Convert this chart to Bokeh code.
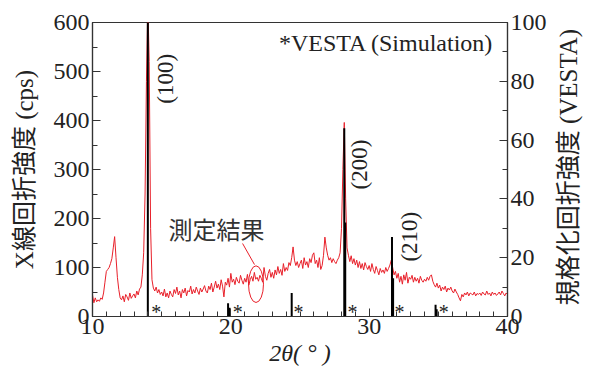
import numpy as np
from bokeh.plotting import figure
from bokeh.layouts import row
from bokeh.models import Range1d, LinearAxis, FixedTicker
from bokeh.core.properties import value
from bokeh.embed import file_html
from bokeh.resources import INLINE

# ---------------- data ----------------
two_theta_start = 10.0
two_theta_step = 0.1
measured_cps = [
    44, 28, 38, 30, 34, 31, 38, 35, 48, 70,            # 10.x
    92, 96, 100, 108, 118, 140, 163, 120, 80, 55,      # 11.x
    38, 34, 42, 30, 45, 40, 33, 48, 37, 42,            # 12.x
    46, 38, 52, 44, 56, 60, 85, 130, 250, 480,         # 13.x
    640, 520, 180, 75, 58, 52, 60, 48, 55, 45,         # 14.x
    50, 42, 56, 40, 48, 38, 52, 45, 40, 55,            # 15.x
    47, 60, 44, 52, 38, 55, 48, 58, 42, 53,            # 16.x
    50, 62, 46, 55, 48, 60, 52, 45, 58, 50,            # 17.x
    56, 63, 52, 48, 62, 55, 68, 50, 60, 72,            # 18.x
    58, 66, 55, 75, 62, 40, 70, 64, 78, 60,            # 19.x
    88, 70, 76, 65, 80, 72, 68, 84, 74, 66,            # 20.x
    78, 70, 86, 64, 75, 82, 72, 90, 76, 80,            # 21.x
    72, 84, 78, 70, 100, 82, 74, 88, 96, 80,           # 22.x
    90, 78, 95, 85, 102, 88, 96, 84, 108, 92,          # 23.x
    100, 94, 110, 104, 120, 142, 115, 104, 112, 100,   # 24.x
    108, 115, 98, 120, 105, 112, 100, 118, 110, 125,   # 25.x
    130, 108, 115, 100, 120, 96, 104, 125, 162, 140,   # 26.x
    125, 115, 120, 110, 118, 112, 108, 115, 120, 130,  # 27.x
    180, 300, 396, 240, 140, 125, 112, 124, 108, 118,  # 28.x
    105, 115, 100, 112, 98, 108, 95, 110, 102, 96,     # 29.x
    104, 92, 108, 96, 88, 102, 94, 85, 98, 90,         # 30.x
    95, 88, 100, 92, 98, 105, 115, 100, 85, 92,        # 31.x
    78, 88, 70, 82, 66, 85, 74, 90, 68, 80,            # 32.x
    76, 84, 70, 80, 72, 78, 68, 82, 74, 70,            # 33.x
    76, 72, 80, 74, 82, 85, 72, 65, 60, 68,            # 34.x
    58, 64, 52, 60, 55, 62, 50, 58, 54, 60,            # 35.x
    52, 48, 56, 50, 45, 38, 32, 45, 40, 48,            # 36.x
    44, 50, 42, 48, 46, 44, 50, 42, 47, 45,            # 37.x
    48, 43, 50, 46, 44, 52, 45, 48, 42, 50,            # 38.x
    45, 48, 43, 46, 50, 44, 52, 47, 42, 48,            # 39.x
    45,                                                # 40.0
]
two_theta = [round(two_theta_start + i * two_theta_step, 2) for i in range(len(measured_cps))]

vesta_two_theta = [14.0, 19.8, 19.9, 24.4, 28.2, 28.27, 31.65, 31.73, 34.8, 34.88]
vesta_intensity = [100, 4.5, 3, 8, 64, 32, 27, 13, 4, 2.5]

star_two_theta = [14.6, 20.5, 24.9, 28.8, 32.2, 35.4]

peak_labels = ["(100)", "(200)", "(210)"]
peak_label_x = [15.3, 29.3, 32.9]
peak_label_y = [485, 310, 163]

x_ticks = [10, 20, 30, 40]
y_ticks = [0, 100, 200, 300, 400, 500, 600]
y2_ticks = [0, 20, 40, 60, 80, 100]

right_title = "規格化回折強度 (VESTA)"

# ---------------- style ----------------
SERIF = "Liberation Serif, Noto Sans CJK JP"
CJK = "Noto Sans CJK JP"
RED = "#e8202a"
AX = "#333333"

p = figure(width=550, height=370,
           x_range=Range1d(10, 40), y_range=Range1d(0, 600),
           output_backend="svg", toolbar_location=None,
           min_border_left=92, min_border_right=43,
           min_border_top=22, min_border_bottom=54)
p.extra_y_ranges = {"vesta": Range1d(0, 100)}
p.grid.visible = False
p.outline_line_color = AX
p.outline_line_width = 1.2
p.background_fill_color = "white"
p.border_fill_color = "white"

right = LinearAxis(y_range_name="vesta")
p.add_layout(right, "right")

p.xaxis.ticker = FixedTicker(ticks=x_ticks, minor_ticks=list(range(10, 41)))
p.yaxis[0].ticker = FixedTicker(ticks=y_ticks, minor_ticks=list(range(0, 601, 50)))
right.ticker = FixedTicker(ticks=y2_ticks, minor_ticks=list(range(0, 101, 10)))

for ax in [p.xaxis[0], p.yaxis[0], right]:
    ax.axis_line_color = AX
    ax.axis_line_width = 1.2
    ax.major_tick_in = 8
    ax.major_tick_out = 0
    ax.minor_tick_in = 5
    ax.minor_tick_out = 0
    ax.major_tick_line_color = AX
    ax.minor_tick_line_color = AX
    ax.major_label_text_font = SERIF
    ax.major_label_text_font_size = "24px"
    ax.major_label_text_color = "#222222"
    ax.major_label_standoff = 3
    ax.axis_label_text_font = SERIF
    ax.axis_label_text_font_size = "25px"
    ax.axis_label_text_font_style = "normal"
    ax.axis_label_text_color = "#222222"

p.xaxis.axis_label = "2θ( ° )"
p.xaxis.axis_label_text_font_size = "24px"
p.xaxis.axis_label_text_font_style = "italic"
p.xaxis.axis_label_standoff = 3
p.xaxis.major_label_standoff = 2
p.yaxis[0].axis_label = "X線回折強度 (cps)"
p.yaxis[0].axis_label_standoff = 13

# measured pattern
p.line(two_theta, measured_cps, line_color=RED, line_width=1)

# simulated sticks
p.segment(x0=vesta_two_theta, y0=[0] * len(vesta_two_theta),
          x1=vesta_two_theta, y1=vesta_intensity,
          y_range_name="vesta", line_color="black", line_width=2)

# asterisks
p.text(x=star_two_theta, y=[9] * len(star_two_theta), text=["*"] * len(star_two_theta),
       text_font=value("Liberation Serif"), text_font_size="20px",
       text_align="center", text_baseline="middle", text_color="#222222")

# peak labels
p.text(x=peak_label_x, y=peak_label_y, text=peak_labels, angle=np.pi / 2,
       text_font=value("Liberation Serif"), text_font_size="23px",
       text_align="center", text_baseline="middle", text_color="#222222")

# legend-like text
p.text(x=[39.0], y=[559], text=["*VESTA (Simulation)"],
       text_font=value("Liberation Serif"), text_font_size="24px",
       text_align="right", text_baseline="middle", text_color="#222222")

p.text(x=[18.97], y=[180], text=["測定結果"],
       text_font=value(CJK), text_font_size="24px", text_font_style="normal",
       text_align="center", text_baseline="middle", text_color="#333333")

# ellipse + leader
p.ellipse(x=[21.82], y=[66], width=[1.08], height=[75],
          fill_color=None, line_color=RED, line_width=1)
p.segment(x0=[20.85], y0=[149], x1=[21.71], y1=[106], line_color=RED, line_width=1)

# right-hand axis title (reads bottom-to-top) in a narrow strip figure
t = figure(width=40, height=370, x_range=Range1d(0, 40), y_range=Range1d(0, 370),
           output_backend="svg", toolbar_location=None, min_border=0)
t.axis.visible = False
t.grid.visible = False
t.outline_line_color = None
t.background_fill_color = "white"
t.border_fill_color = "white"
t.text(x=[18], y=[188], text=[right_title], angle=np.pi / 2,
       text_font=value(SERIF), text_font_size="25px",
       text_align="center", text_baseline="middle", text_color="#222222")

layout = row(p, t, spacing=0)
open("out.html", "w").write(file_html(layout, INLINE))
